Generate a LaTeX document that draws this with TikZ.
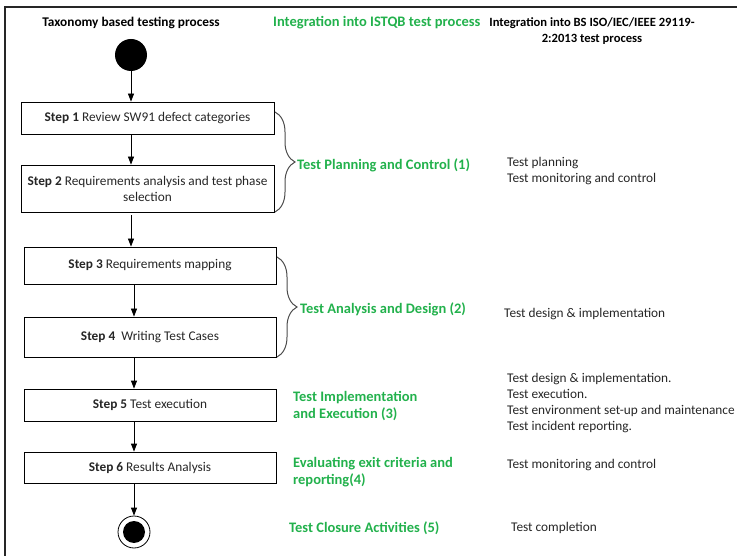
\documentclass[tikz,border=0pt]{standalone}
\usepackage{fontspec}
\setmainfont{Carlito}
\usetikzlibrary{arrows.meta,decorations.pathreplacing}
\definecolor{grn}{HTML}{22B14C}
\definecolor{txt}{HTML}{262626}
\begin{document}
\begin{tikzpicture}[x=1pt,y=-1pt,
  font=\fontsize{13.3}{16}\selectfont,
  stepbox/.style={draw=black,line width=0.8pt,inner sep=0pt,align=center,text=txt},
  arr/.style={-{Triangle[length=8pt,width=6pt]},line width=0.8pt},
  phase/.style={text=grn,font=\fontsize{14.5}{17}\selectfont\bfseries,anchor=base west,align=left,inner sep=0pt},
  isot/.style={text=txt,anchor=base west,align=left,inner sep=0pt},
  bracestyle/.style={decorate,decoration={brace,amplitude=20pt},line width=1pt,draw=black!70}]
\useasboundingbox (0,0) rectangle (737,556);
\draw[line width=1.5pt,black!85] (5,556) -- (5,7) -- (737,7);
% headers
\node[font=\fontsize{13.3}{16}\selectfont\bfseries,anchor=base,inner sep=0pt] (h1) at (131,26.5) {Taxonomy based testing process};
\node[phase] (h2) at (273,26.5) {Integration into ISTQB test process};
\node[font=\fontsize{12.6}{16}\selectfont\bfseries,anchor=base,align=center,inner sep=0pt] (h3) at (592,42.5) {Integration into BS ISO/IEC/IEEE 29119-\\2:2013 test process};
% start / end
\node[circle,fill=black,minimum size=32pt,inner sep=0pt] (start) at (131,55) {};
\node[circle,draw=black,line width=0.8pt,minimum size=32pt,inner sep=0pt] (stop) at (134,532) {};
\node[circle,fill=black,minimum size=22pt,inner sep=0pt] (stopin) at (stop.center) {};
% steps
\node[stepbox,minimum width=253pt,minimum height=32pt] (s1) at (147.5,118) {\textbf{Step 1} Review SW91 defect categories};
\node[stepbox,minimum width=253pt,minimum height=47pt] (s2) at (147.5,188.5) {\textbf{Step 2} Requirements analysis and test phase\\selection};
\node[stepbox,minimum width=252pt,minimum height=37pt] (s3) at (150,265.5) {\textbf{Step 3} Requirements mapping};
\node[stepbox,minimum width=252pt,minimum height=40pt] (s4) at (150,337) {\textbf{Step 4}\ \ Writing Test Cases};
\node[stepbox,minimum width=252pt,minimum height=32pt] (s5) at (150,405) {\textbf{Step 5} Test execution};
\node[stepbox,minimum width=252pt,minimum height=31pt] (s6) at (150,467.5) {\textbf{Step 6} Results Analysis};
% arrows
\draw[arr] (start.south) -- (start |- s1.north);
\draw[arr] (s1.south -| start) -- (start |- s2.north);
\draw[arr] ([yshift=-3pt]s2.south -| start) -- (start |- s3.north);
\draw[arr] (s3.south -| stop) -- (stop |- s4.north);
\draw[arr] (s4.south -| stop) -- (stop |- s5.north);
\draw[arr] (s5.south -| stop) -- (stop |- s6.north);
\draw[arr] (s6.south -| stop) -- (stop.north);
% braces
\coordinate (b1a) at (275,112);
\coordinate (b1b) at (275,212);
\coordinate (b2a) at (277,257);
\coordinate (b2b) at (277,357);
\draw[bracestyle] (b1a) -- (b1b);
\draw[bracestyle] (b2a) -- (b2b);
% ISTQB phases
\node[phase] (p1) at (297,170) {Test Planning and Control (1)};
\node[phase] (p2) at (300,314) {Test Analysis and Design (2)};
\node[phase] (p3) at (293,418) {Test Implementation\\and Execution (3)};
\node[phase] (p4) at (293,484) {Evaluating exit criteria and\\reporting(4)};
\node[phase] (p5) at (289,532) {Test Closure Activities (5)};
% ISO processes
\node[isot] (i1) at (507,182.5) {Test planning\\Test monitoring and control};
\node[isot] (i2) at (504,317.5) {Test design \& implementation};
\node[isot] (i3) at (507,430.5) {Test design \& implementation.\\Test execution.\\Test environment set-up and maintenance\\Test incident reporting.};
\node[isot] (i4) at (507,468.5) {Test monitoring and control};
\node[isot] (i5) at (511,531.5) {Test completion};
\end{tikzpicture}
\end{document}
